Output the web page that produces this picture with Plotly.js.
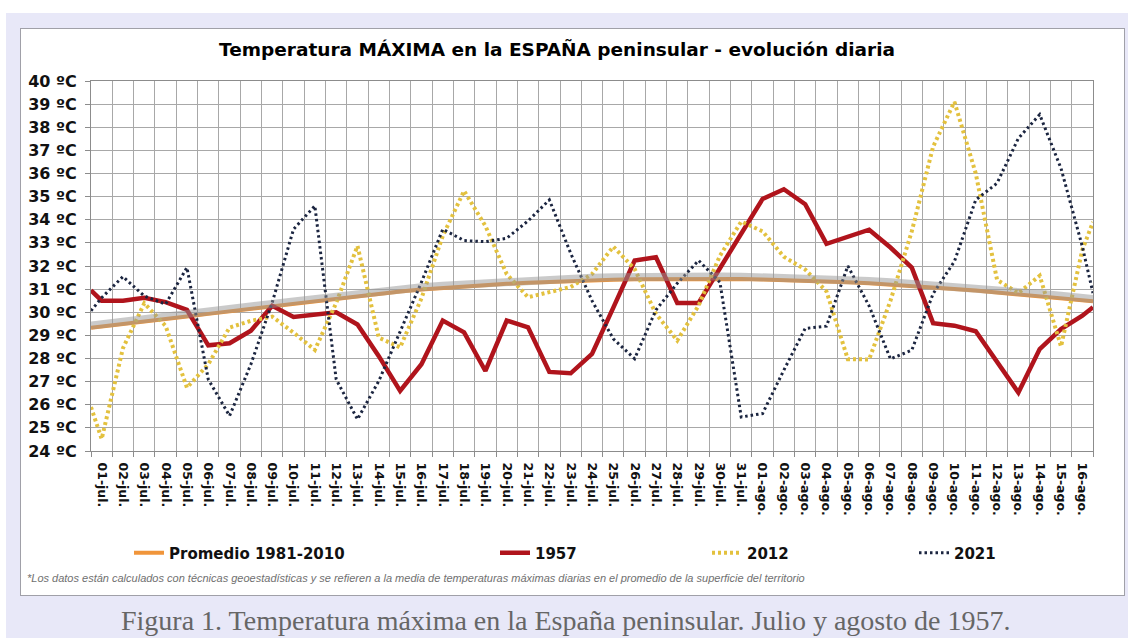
<!DOCTYPE html>
<html>
<head>
<meta charset="utf-8">
<script src="https://cdn.plot.ly/plotly-3.0.1.min.js"></script>
<style>
  html, body { margin:0; padding:0; background:#ffffff; }
  #bg { position:absolute; left:6px; top:13px; width:1122px; height:625px; background:#e8e8f8; }
  #panel { position:absolute; left:20px; top:28px; width:1105px; height:568px; background:#ffffff; border:1px solid #a0a0a8; box-sizing:border-box; }
  #chart { position:absolute; left:0; top:0; width:1128px; height:638px; }
</style>
</head>
<body>
<div id="bg"></div>
<div id="panel"></div>
<div id="chart"></div>
<script>
// ---- data ----
const labels = ["01-jul.","02-jul.","03-jul.","04-jul.","05-jul.","06-jul.","07-jul.","08-jul.","09-jul.","10-jul.",
  "11-jul.","12-jul.","13-jul.","14-jul.","15-jul.","16-jul.","17-jul.","18-jul.","19-jul.","20-jul.",
  "21-jul.","22-jul.","23-jul.","24-jul.","25-jul.","26-jul.","27-jul.","28-jul.","29-jul.","30-jul.",
  "31-jul.","01-ago.","02-ago.","03-ago.","04-ago.","05-ago.","06-ago.","07-ago.","08-ago.","09-ago.",
  "10-ago.","11-ago.","12-ago.","13-ago.","14-ago.","15-ago.","16-ago."];

const promedio = [29.38,29.48,29.60,29.71,29.82,29.93,30.04,30.15,30.26,30.37,
  30.48,30.59,30.70,30.80,30.90,30.98,31.05,31.11,31.17,31.23,
  31.28,31.32,31.36,31.39,31.41,31.43,31.44,31.45,31.45,31.45,
  31.44,31.42,31.40,31.37,31.34,31.30,31.25,31.20,31.14,31.08,
  31.01,30.94,30.86,30.78,30.70,30.61,30.52];
const promedioEdges = [29.33, 30.47];

const y1957 = [30.50,30.50,30.63,30.44,30.10,28.57,28.66,29.20,30.28,29.80,
  29.90,30.00,29.47,28.10,26.60,27.75,29.64,29.13,27.46,29.64,
  29.35,27.42,27.36,28.20,30.20,32.24,32.38,30.40,30.40,31.90,
  33.35,34.90,35.32,34.67,32.96,33.25,33.57,32.80,31.93,29.53,
  29.42,29.18,27.84,26.53,28.41,29.27,29.85];
const edges1957 = [30.95, 30.22];

const y2012 = [24.52,28.45,30.39,29.41,26.74,27.75,29.34,29.63,29.81,29.12,
  28.37,30.40,32.87,28.90,28.48,30.60,33.30,35.25,33.73,31.65,
  30.65,30.87,31.09,31.65,32.84,31.87,29.93,28.78,30.29,32.44,
  33.92,33.50,32.40,31.85,30.90,27.97,27.96,30.50,33.50,37.16,
  39.10,36.00,31.40,30.83,31.58,28.52,32.70];
const edges2012 = [25.90, 33.90];

const y2021 = [30.63,31.54,30.70,30.35,31.93,27.10,25.52,27.75,30.42,33.59,
  34.60,27.10,25.37,27.03,29.15,31.30,33.59,33.10,33.05,33.20,
  33.95,34.86,32.55,30.50,28.85,27.99,30.10,31.25,32.24,31.30,
  25.47,25.62,27.50,29.30,29.40,32.00,30.27,27.98,28.36,30.80,
  32.20,34.86,35.58,37.52,38.55,36.22,32.84];
const edges2021 = [30.06, 30.83];

const yTicks = [24,25,26,27,28,29,30,31,32,33,34,35,36,37,38,39,40];
const yLabels = ["24 ºC","25 ºC","26 ºC","27 ºC","28 ºC","29 ºC","30 ºC","31 ºC","32 ºC","33 ºC",
  "34 ºC","35 ºC","36 ºC","37 ºC","38 ºC","39 ºC","40 ºC"];

const seriesNames = ["Promedio 1981-2010", "1957", "2012", "2021"];

// ---- geometry / helpers ----
const W = 1128, H = 638;
const L = 91, R = 1093, T = 81, B = 451;
const idx = labels.map((_, i) => i);
const X_LO = -0.5, X_HI = labels.length - 0.5;
const xs = [X_LO].concat(idx, [X_HI]);
const withEdges = (edges, vals) => [edges[0]].concat(vals, [edges[1]]);
const px = v => (v - L) / (R - L);
const py = v => (B - v) / (B - T);

const boldFont = {family: "DejaVu Sans, Verdana, sans-serif", weight: "bold", color: "#111"};

const traces = [
  {x: xs, y: withEdges(promedioEdges, promedio), yaxis: "y2", type: "scatter", mode: "lines",
   line: {color: "rgba(150,150,150,0.5)", width: 8}, showlegend: false, hoverinfo: "skip"},
  {x: xs, y: withEdges(promedioEdges, promedio), type: "scatter", mode: "lines", name: seriesNames[0],
   line: {color: "#F0953A", width: 4}, legend: "legend"},
  {x: xs, y: withEdges(edges1957, y1957), type: "scatter", mode: "lines", name: seriesNames[1],
   line: {color: "#B0141C", width: 4.5}, legend: "legend2"},
  {x: xs, y: withEdges(edges2012, y2012), type: "scatter", mode: "lines", name: seriesNames[2],
   line: {color: "#E3C13E", width: 4, dash: "3px,3px"}, legend: "legend3"},
  {x: xs, y: withEdges(edges2021, y2021), type: "scatter", mode: "lines", name: seriesNames[3],
   line: {color: "#1B2540", width: 3, dash: "2.5px,3px"}, legend: "legend4"}
];

const legendBase = {orientation: "h", yanchor: "middle", xanchor: "left", bgcolor: "rgba(0,0,0,0)",
  font: Object.assign({}, boldFont, {size: 15}), y: py(553)};

const layout = {
  width: W, height: H,
  margin: {l: L, r: W - R, t: T, b: H - B, pad: 0},
  paper_bgcolor: "rgba(0,0,0,0)",
  plot_bgcolor: "rgba(0,0,0,0)",
  title: {text: "Temperatura MÁXIMA en la ESPAÑA peninsular - evolución diaria",
    font: Object.assign({}, boldFont, {size: 18.5, color: "#000"}),
    xref: "container", yref: "container", x: 557 / W, y: 1 - 50 / H, xanchor: "center", yanchor: "middle"},
  xaxis: {
    range: [X_LO, X_HI], tickmode: "array", tickvals: idx, ticktext: labels,
    tickangle: 90, ticks: "", showgrid: false, zeroline: false, ticklabelstandoff: 8,
    showline: true, linecolor: "#8c8c8c", linewidth: 1, mirror: true,
    tickfont: Object.assign({}, boldFont, {size: 12.5}),
    minor: {tickmode: "array", tickvals: idx.map(i => i - 0.5).concat([X_HI]),
      showgrid: true, gridcolor: "#a8a8a8", gridwidth: 1, ticks: "outside", ticklen: 5, tickcolor: "#8c8c8c"}
  },
  yaxis: {
    range: [yTicks[0], yTicks[yTicks.length - 1]], tickmode: "array", tickvals: yTicks, ticktext: yLabels,
    showgrid: true, gridcolor: "#a8a8a8", gridwidth: 1, zeroline: false,
    ticks: "outside", ticklen: 5, tickcolor: "#8c8c8c", ticklabelstandoff: 5,
    showline: true, linecolor: "#8c8c8c", linewidth: 1, mirror: true,
    tickfont: Object.assign({}, boldFont, {size: 16})
  },
  yaxis2: {
    overlaying: "y", visible: false,
    range: [yTicks[0] - 0.1, yTicks[yTicks.length - 1] - 0.1]
  },
  legend: Object.assign({}, legendBase, {x: px(129)}),
  legend2: Object.assign({}, legendBase, {x: px(495)}),
  legend3: Object.assign({}, legendBase, {x: px(707)}),
  legend4: Object.assign({}, legendBase, {x: px(914)}),
  annotations: [
    {text: "*Los datos están calculados con técnicas geoestadísticas y se refieren a la media de temperaturas máximas diarias en el promedio de la superficie del territorio",
     xref: "paper", yref: "paper", x: px(25), y: py(578), xanchor: "left", yanchor: "middle", showarrow: false,
     font: {family: "Liberation Sans, Arial, sans-serif", size: 11, style: "italic", color: "#707070"}},
    {text: "Figura 1. Temperatura máxima en la España peninsular. Julio y agosto de 1957.",
     xref: "paper", yref: "paper", x: px(565), y: py(620), xanchor: "center", yanchor: "middle", showarrow: false,
     font: {family: "Liberation Serif, Times New Roman, serif", size: 28, color: "#666666"}}
  ],
  showlegend: true
};

Plotly.newPlot("chart", traces, layout, {displayModeBar: false, staticPlot: true});
</script>
</body>
</html>
